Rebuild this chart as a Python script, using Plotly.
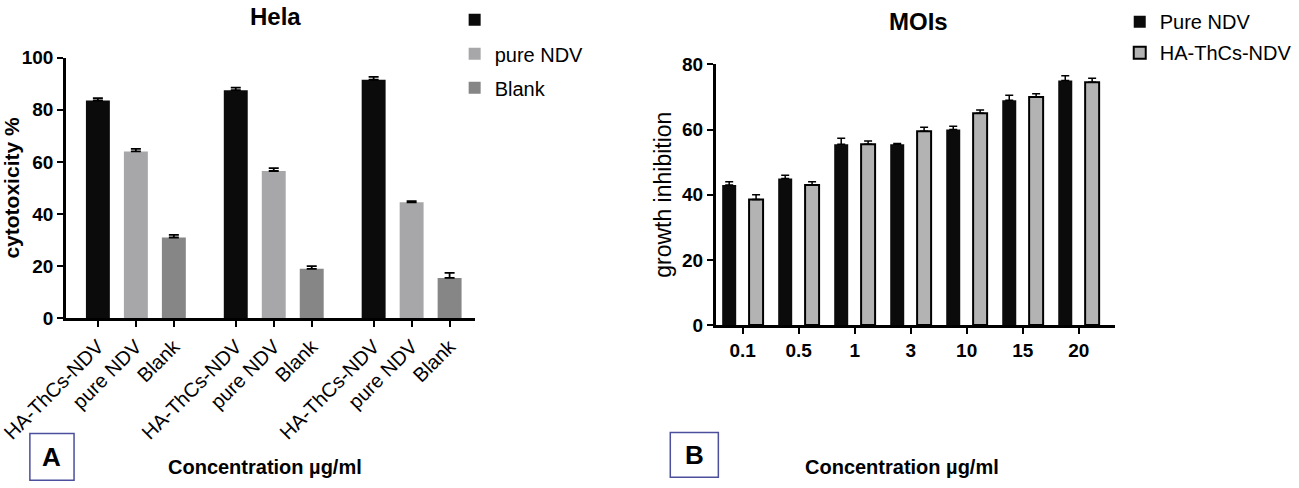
import plotly.graph_objects as go

# panel A - Hela cytotoxicity (three dose groups)
groups_a = ["HA-ThCs-NDV", "pure NDV", "Blank"]
ha_vals = [83.5, 87.5, 91.5]
ha_err = [0.9, 1.0, 1.1]
pure_vals = [64.0, 56.5, 44.5]
pure_err = [1.0, 1.1, 0.4]
blank_vals = [31.0, 19.0, 15.5]
blank_err = [1.0, 1.0, 1.9]

# panel B - MOIs growth inhibition
moi_labels = ["0.1", "0.5", "1", "3", "10", "15", "20"]
pure_ndv = [43.0, 45.0, 55.5, 55.5, 60.0, 69.0, 75.0]
pure_ndv_err = [1.0, 1.0, 1.8, 0.2, 1.0, 1.5, 1.5]
ha_ndv = [38.5, 43.0, 55.5, 59.5, 65.0, 70.0, 74.5]
ha_ndv_err = [1.5, 1.0, 1.0, 1.2, 1.0, 1.0, 1.2]

REG = "Liberation Sans, Arial, sans-serif"

group_step = 3.63
bar_w = 0.63

fig = go.Figure()

series_a = [
    (" ", ha_vals, ha_err, "#0b0b0b"),
    ("pure NDV", pure_vals, pure_err, "#a7a7a9"),
    ("Blank", blank_vals, blank_err, "#868686"),
]
tickvals_a, ticktext_a = [], []
for i, (name, vals, err, col) in enumerate(series_a):
    xs = [g * group_step + i for g in range(len(vals))]
    tickvals_a += xs
    ticktext_a += [groups_a[i]] * len(vals)
    fig.add_trace(go.Bar(
        x=xs, y=vals, name=name, width=bar_w, offset=-bar_w / 2,
        marker=dict(color=col, line=dict(width=0)),
        error_y=dict(type="data", array=err, arrayminus=[0] * len(err),
                     symmetric=False, color="black", thickness=1.8, width=5),
        legend="legend", legendgroup=name, xaxis="x", yaxis="y",
    ))

w_b = 0.25
fig.add_trace(go.Bar(
    x=moi_labels, y=pure_ndv, name="Pure NDV", width=w_b, offset=-0.365,
    marker=dict(color="#0b0b0b", line=dict(width=0)),
    error_y=dict(type="data", array=pure_ndv_err, arrayminus=[0] * 7,
                 symmetric=False, color="black", thickness=1.5, width=4),
    legend="legend2", legendgroup="pure", xaxis="x2", yaxis="y2",
))
fig.add_trace(go.Bar(
    x=moi_labels, y=ha_ndv, name="HA-ThCs-NDV", width=w_b, offset=0.115,
    marker=dict(color="#b3b3b3", line=dict(color="black", width=2)),
    error_y=dict(type="data", array=ha_ndv_err, arrayminus=[0] * 7,
                 symmetric=False, color="black", thickness=1.5, width=4),
    legend="legend2", legendgroup="ha", xaxis="x2", yaxis="y2",
))

axis_common = dict(showline=True, linecolor="black", linewidth=2.5,
                   ticks="outside", ticklen=6, tickwidth=2, tickcolor="black",
                   showgrid=False, zeroline=False, automargin=False)
bold_tick = dict(family=REG, size=19, color="black", weight="bold")

fig.update_layout(
    width=1299, height=488,
    margin=dict(l=0, r=0, t=0, b=0),
    paper_bgcolor="white", plot_bgcolor="white",
    barmode="overlay",
    xaxis=dict(axis_common, domain=[0.0508, 0.366], range=[-0.84, 2 * group_step + 2.68],
               tickvals=tickvals_a, ticktext=ticktext_a, tickangle=-45,
               ticklabeloverflow="allow",
               tickfont=dict(family=REG, size=20, color="black"), anchor="y"),
    yaxis=dict(axis_common, domain=[0.352, 0.893], range=[0, 100], dtick=20,
               tickfont=bold_tick,
               title=dict(text="cytotoxicity %", standoff=4,
                          font=dict(family=REG, size=21, color="black", weight="bold")),
               anchor="x"),
    xaxis2=dict(axis_common, domain=[0.551, 0.858], range=[-0.48, 6.64],
                tickfont=bold_tick, anchor="y2"),
    yaxis2=dict(axis_common, domain=[0.338, 0.879], range=[0, 80], dtick=20,
                tickfont=bold_tick,
                title=dict(text="growth inhibition", standoff=4,
                           font=dict(family=REG, size=23, color="black")),
                anchor="x2"),
    legend=dict(x=0.350, y=1.012, xanchor="left", yanchor="top",
                font=dict(family=REG, size=20, color="black"),
                tracegroupgap=5, bgcolor="rgba(0,0,0,0)"),
    legend2=dict(x=0.862, y=1.008, xanchor="left", yanchor="top",
                 font=dict(family=REG, size=20, color="black"),
                 tracegroupgap=2, bgcolor="rgba(0,0,0,0)"),
    showlegend=True,
)

# titles, x-axis captions and panel letters
fig.add_annotation(text="<b>Hela</b>", x=0.212, y=0.978, xref="paper", yref="paper",
                   xanchor="center", yanchor="middle", showarrow=False,
                   font=dict(family=REG, size=24, color="black"))
fig.add_annotation(text="<b>MOIs</b>", x=0.707, y=0.968, xref="paper", yref="paper",
                   xanchor="center", yanchor="middle", showarrow=False,
                   font=dict(family=REG, size=24, color="black"))
for cx in [0.204, 0.694]:
    fig.add_annotation(text="<b>Concentration µg/ml</b>", x=cx, y=0.043,
                       xref="paper", yref="paper", xanchor="center", yanchor="middle",
                       showarrow=False, font=dict(family=REG, size=20, color="black"))
for letter, x0, x1, y0, y1 in [("A", 0.023, 0.057, 0.016, 0.113),
                               ("B", 0.516, 0.553, 0.0225, 0.115)]:
    fig.add_shape(type="rect", xref="paper", yref="paper", x0=x0, x1=x1, y0=y0, y1=y1,
                  line=dict(color="#4b4f9c", width=1.5), fillcolor="rgba(0,0,0,0)",
                  layer="below")
    fig.add_annotation(text="<b>" + letter + "</b>", x=(x0 + x1) / 2, y=(y0 + y1) / 2,
                       xref="paper", yref="paper", xanchor="center", yanchor="middle",
                       showarrow=False, font=dict(family=REG, size=26, color="black"))

# the page body has a default 8px margin; drop it so the figure fills the window
fig.write_html("out.html", config={"displayModeBar": False},
               post_script="document.body.style.margin='0';")
